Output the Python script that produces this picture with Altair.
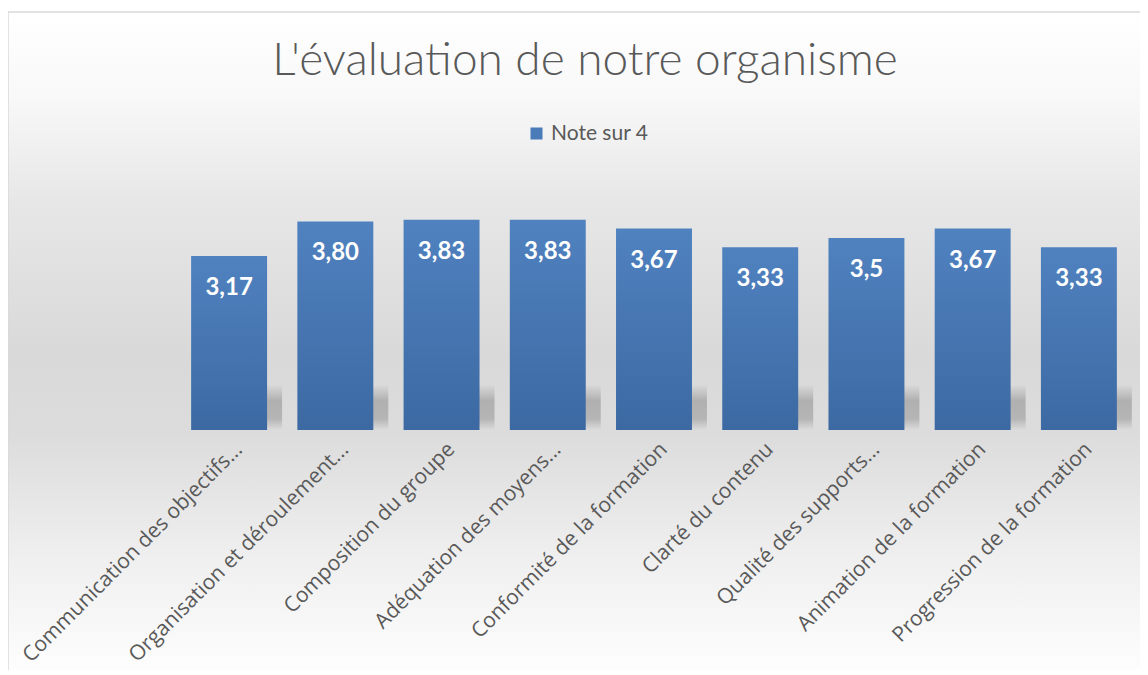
import altair as alt
import pandas as pd

categories = [
    "Communication des objectifs...",
    "Organisation et déroulement...",
    "Composition du groupe",
    "Adéquation des moyens...",
    "Conformité de la formation",
    "Clarté du contenu",
    "Qualité des supports...",
    "Animation de la formation",
    "Progression de la formation",
]
values = [3.17, 3.80, 3.83, 3.83, 3.67, 3.33, 3.5, 3.67, 3.33]
value_labels = ["3,17", "3,80", "3,83", "3,83", "3,67", "3,33", "3,5", "3,67", "3,33"]
series_name = "Note sur 4"
title_text = "L'évaluation de notre organisme"

df = pd.DataFrame({
    "cat": categories,
    "val": values,
    "lab": value_labels,
    "series": [series_name] * len(categories),
})

FONT = "Lato"
LABEL_FONT = "Open Sans"
GRAY = "#595959"
W, H = 956, 247
SHADOW_SHIFT = 15

axis_x = alt.Axis(
    title=None, domain=False, ticks=False, labelAngle=-45,
    labelAlign="right", labelBaseline="middle",
    labelFontSize=21, labelColor=GRAY, labelFont=LABEL_FONT,
    labelLimit=500, labelPadding=16, labelOffset=10, zindex=2,
)
xscale = alt.Scale(paddingInner=0.285, paddingOuter=0.1425)
xenc = alt.X("cat:N", sort=categories, scale=xscale, axis=axis_x)
yscale = alt.Scale(domain=[0, 4.5])

bg_grad = alt.LinearGradient(
    gradient="linear", x1=0, y1=0, x2=0, y2=1,
    stops=[
        alt.GradientStop(offset=0, color="#ffffff"),
        alt.GradientStop(offset=0.13, color="#f8f8f8"),
        alt.GradientStop(offset=0.28, color="#e7e7e7"),
        alt.GradientStop(offset=0.51, color="#d9d9d9"),
        alt.GradientStop(offset=0.63, color="#dcdcdc"),
        alt.GradientStop(offset=0.81, color="#efefef"),
        alt.GradientStop(offset=1, color="#ffffff"),
    ],
)
bar_grad = alt.LinearGradient(
    gradient="linear", x1=0, y1=0, x2=0, y2=1,
    stops=[
        alt.GradientStop(offset=0, color="#5082c0"),
        alt.GradientStop(offset=1, color="#3c69a2"),
    ],
)
shadow_grad = alt.LinearGradient(
    gradient="linear", x1=0, y1=0, x2=0, y2=1,
    stops=[
        alt.GradientStop(offset=0, color="#d9d9d9"),
        alt.GradientStop(offset=0.35, color="#b0b0b0"),
        alt.GradientStop(offset=0.75, color="#b5b5b5"),
        alt.GradientStop(offset=1, color="#dcdcdc"),
    ],
)

one = pd.DataFrame({"a": [0]})
bg = alt.Chart(one).mark_rect(color=bg_grad).encode(
    x=alt.value(-168), x2=alt.value(1000), y=alt.value(-171), y2=alt.value(500)
)
border = alt.Chart(one).mark_rect(
    fillOpacity=0, stroke="#d9d9d9", strokeWidth=1.5
).encode(
    x=alt.value(-168), x2=alt.value(1000), y=alt.value(-171), y2=alt.value(500)
)

base = alt.Chart(df)

shadow = base.transform_calculate(floor="0.82").mark_bar(color=shadow_grad).encode(
    x=alt.X(
        "cat:N", sort=categories, axis=None,
        scale=alt.Scale(paddingInner=0.285, paddingOuter=0.1425,
                        range=[SHADOW_SHIFT, W + SHADOW_SHIFT]),
    ),
    y=alt.Y("floor:Q", scale=yscale, axis=None),
)

bars = base.mark_bar(color=bar_grad).encode(
    x=xenc, y=alt.Y("val:Q", scale=yscale, axis=None)
)

legend_pts = base.mark_point(shape="square", filled=True, opacity=0).encode(
    x=xenc,
    y=alt.Y("val:Q", scale=yscale, axis=None),
    color=alt.Color(
        "series:N",
        scale=alt.Scale(range=["#4a7ab8"]),
        legend=alt.Legend(
            title=None, orient="none", legendX=350, legendY=-60,
            symbolType="square", symbolSize=144, symbolOpacity=1,
            labelFontSize=21, labelColor=GRAY, labelFont=FONT,
        ),
    ),
)

texts = base.mark_text(
    color="white", font=FONT, fontWeight="bold", fontSize=24,
    baseline="middle", dy=32,
).encode(
    x=xenc, y=alt.Y("val:Q", scale=yscale, axis=None), text="lab:N"
)

main = alt.layer(bars, legend_pts, texts)

chart = alt.layer(bg, border, shadow, main).resolve_scale(
    x="independent"
).properties(
    width=W, height=H,
    title=alt.TitleParams(
        title_text, font=FONT, fontSize=46, fontWeight=300, color=GRAY,
        anchor="middle", offset=-110, dx=-69, baseline="alphabetic", zindex=2,
    ),
    autosize=alt.AutoSizeParams(type="none"),
    padding={"left": 168, "top": 175, "right": 8, "bottom": 240},
).configure_view(stroke=None)

chart.save("out.html", embed_options={"renderer": "svg", "actions": False})
